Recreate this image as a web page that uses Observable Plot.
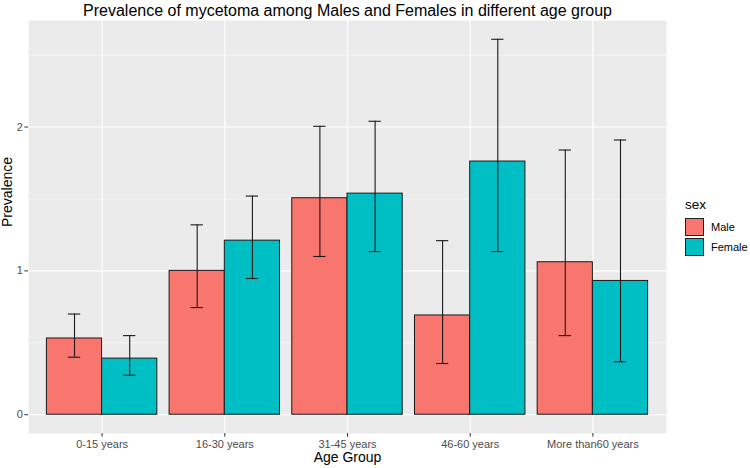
<!DOCTYPE html>
<html>
<head>
<meta charset="utf-8">
<script src="https://cdn.jsdelivr.net/npm/d3@7"></script>
<script src="https://cdn.jsdelivr.net/npm/@observablehq/plot@0.6"></script>
<style>
  html, body { margin: 0; padding: 0; background: #fff; }
  #wrap { position: relative; width: 750px; height: 468px; font-family: "Liberation Sans", Arial, sans-serif; }
  #legend { position: absolute; left: 685px; top: 197px; font-family: "Liberation Sans", Arial, sans-serif; }
  #legend .ttl { font-size: 13.5px; color: #000; height: 20px; line-height: 16px; }
  #legend .row { display: flex; align-items: center; height: 20px; }
  #legend .key { width: 19px; height: 18px; box-sizing: border-box; border: 1px solid #222; margin-right: 7px; }
  #legend .lab { font-size: 11px; color: #000; }
</style>
</head>
<body>
<div id="wrap"></div>
<script>
const ages = ["0-15 years", "16-30 years", "31-45 years", "46-60 years", "More than60 years"];
const sexes = ["Male", "Female"];
const colors = ["#F8766D", "#00BFC4"];
const maleValue = [0.53, 1.00, 1.505, 0.69, 1.06];
const maleLower = [0.40, 0.745, 1.10, 0.356, 0.55];
const maleUpper = [0.70, 1.32, 2.005, 1.21, 1.84];
const femaleValue = [0.39, 1.21, 1.537, 1.76, 0.93];
const femaleLower = [0.275, 0.947, 1.134, 1.134, 0.368];
const femaleUpper = [0.55, 1.52, 2.04, 2.61, 1.91];

const barW = 0.45;
const capW = 0.1;
const rows = [];
ages.forEach((a, i) => {
  const c = i + 1;
  rows.push({age: a, sex: "Male", x1: c - barW, x2: c, cx: c - barW / 2, value: maleValue[i], lo: maleLower[i], hi: maleUpper[i]});
  rows.push({age: a, sex: "Female", x1: c, x2: c + barW, cx: c + barW / 2, value: femaleValue[i], lo: femaleLower[i], hi: femaleUpper[i]});
});

const yMax = d3.max(rows, d => d.hi);
const yExp = yMax * 0.05;
const white = "#FFFFFF";

const chart = Plot.plot({
  width: 750,
  height: 468,
  marginLeft: 28,
  marginRight: 84,
  marginTop: 20,
  marginBottom: 35,
  style: {fontFamily: "Liberation Sans, Arial, sans-serif", background: "#fff"},
  x: {domain: [0.4, ages.length + 0.6], axis: null},
  y: {domain: [-yExp, yMax + yExp], axis: null},
  color: {domain: sexes, range: colors},
  marks: [
    Plot.frame({fill: "#EBEBEB", stroke: null}),
    Plot.gridY([0.5, 1.5, 2.5], {stroke: white, strokeOpacity: 1, strokeWidth: 0.6}),
    Plot.gridY([0, 1, 2], {stroke: white, strokeOpacity: 1, strokeWidth: 1.2}),
    Plot.gridX([1, 2, 3, 4, 5], {stroke: white, strokeOpacity: 1, strokeWidth: 1.2}),
    Plot.rectY(rows, {x1: "x1", x2: "x2", y1: 0, y2: "value", fill: "sex", stroke: "#1a1a1a", strokeWidth: 1}),
    Plot.ruleX(rows, {x: "cx", y1: "lo", y2: "hi", stroke: "#1a1a1a", strokeWidth: 1.1}),
    Plot.ruleY(rows, {y: "hi", x1: d => d.cx - capW / 2, x2: d => d.cx + capW / 2, stroke: "#1a1a1a", strokeWidth: 1.1}),
    Plot.ruleY(rows, {y: "lo", x1: d => d.cx - capW / 2, x2: d => d.cx + capW / 2, stroke: "#1a1a1a", strokeWidth: 1.1}),
    Plot.axisY({ticks: [0, 1, 2], tickSize: 3.7, tickPadding: 2, stroke: "#333", fill: "#4D4D4D", fontSize: 11, label: null, tickFormat: d3.format("d")}),
    Plot.axisX({ticks: [1, 2, 3, 4, 5], tickSize: 3.7, tickPadding: 3, stroke: "#333", fill: "#4D4D4D", fontSize: 11, label: null, tickFormat: d => ages[d - 1]}),
    Plot.text(["Prevalence"], {frameAnchor: "left", dx: -21, rotate: -90, fontSize: 14, fill: "#000"}),
    Plot.text(["Age Group"], {frameAnchor: "bottom", dy: 28, fontSize: 14, fill: "#000"}),
    Plot.text(["Prevalence of mycetoma among Males and Females in different age group"], {frameAnchor: "top", dy: -4.5, lineAnchor: "bottom", fontSize: 16, fill: "#000"})
  ]
});

const wrap = document.getElementById("wrap");
wrap.appendChild(chart);

const legend = document.createElement("div");
legend.id = "legend";
const ttl = document.createElement("div");
ttl.className = "ttl";
ttl.textContent = "sex";
legend.appendChild(ttl);
sexes.forEach((s, i) => {
  const row = document.createElement("div");
  row.className = "row";
  const key = document.createElement("div");
  key.className = "key";
  key.style.background = colors[i];
  const lab = document.createElement("span");
  lab.className = "lab";
  lab.textContent = s;
  row.appendChild(key);
  row.appendChild(lab);
  legend.appendChild(row);
});
wrap.appendChild(legend);
</script>
</body>
</html>
